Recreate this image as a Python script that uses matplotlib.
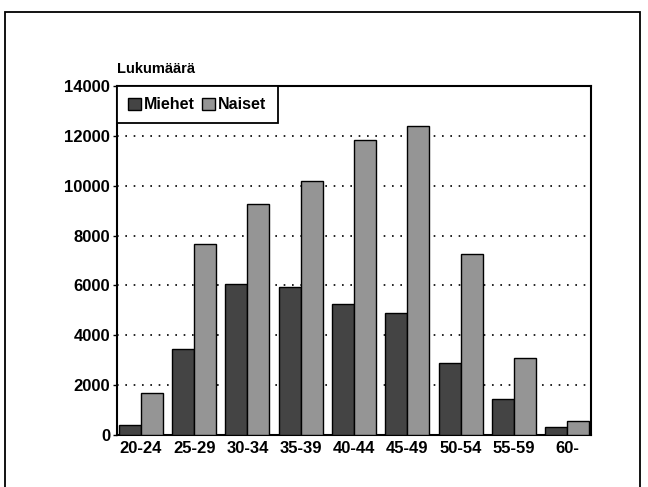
import numpy as np
import matplotlib
matplotlib.use("Agg")
import matplotlib.pyplot as plt
from matplotlib.patches import Rectangle

plt.rcParams['font.family'] = ['Liberation Sans', 'DejaVu Sans']
plt.rcParams['font.weight'] = 'bold'

age_groups = ["20-24", "25-29", "30-34", "35-39", "40-44", "45-49", "50-54", "55-59", "60-"]
miehet = [400, 3450, 6050, 5950, 5250, 4900, 2900, 1450, 320]
naiset = [1700, 7650, 9250, 10200, 11850, 12400, 7250, 3100, 570]

fig = plt.figure(figsize=(6.48, 4.87), dpi=100)
ax = fig.add_axes([117 / 648, 1 - 435 / 487, 474 / 648, 349 / 487])

# outer frame of the original page
fig.patches.append(Rectangle((5 / 648, -0.05), 635 / 648, 1 - 12 / 487 + 0.05,
                             transform=fig.transFigure, fill=False,
                             edgecolor="black", linewidth=1.3))

x = np.arange(len(age_groups))
w = 0.413
ax.bar(x - w / 2, miehet, w, color="#444444", edgecolor="black", linewidth=1.0,
       label="Miehet", zorder=3)
ax.bar(x + w / 2, naiset, w, color="#959595", edgecolor="black", linewidth=1.0,
       label="Naiset", zorder=3)

ax.set_xlim(-0.45, 8.45)
ax.set_ylim(0, 14000)
ax.set_yticks(range(0, 14001, 2000))
ax.set_xticks(x)
ax.set_xticklabels(age_groups)
ax.tick_params(axis="x", length=0, pad=4, labelsize=12)
ax.tick_params(axis="y", length=3, width=1, labelsize=12, pad=2)
for lab in ax.get_xticklabels() + ax.get_yticklabels():
    lab.set_fontweight("bold")

for y in range(2000, 14000, 2000):
    ax.axhline(y, color="black", linestyle=(0, (1, 4)), linewidth=1.2, zorder=1)

for s in ax.spines.values():
    s.set_linewidth(1.5)

ax.text(0.0, 1.03, "Lukumäärä", transform=ax.transAxes, fontsize=10.5,
        fontweight="bold", ha="left", va="bottom")

leg = ax.legend(loc="upper left", bbox_to_anchor=(0, 1), ncol=2, fancybox=False,
                edgecolor="black", framealpha=1, borderaxespad=0,
                handlelength=0.8, handleheight=0.8, handletextpad=0.2,
                columnspacing=0.45, borderpad=0.7,
                prop={"weight": "bold", "size": 11.5})
leg.get_frame().set_linewidth(1.3)

fig.savefig("out.png", dpi=100)
